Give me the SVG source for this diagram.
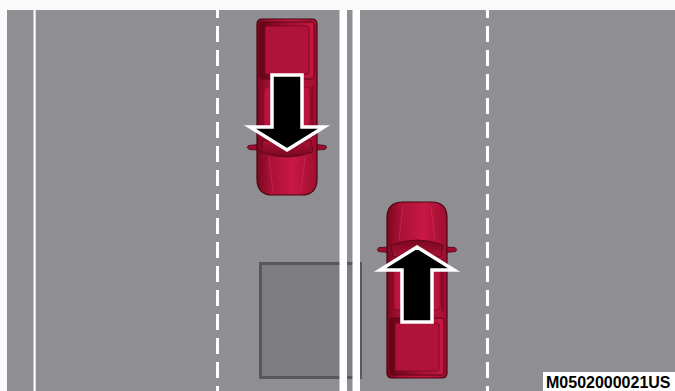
<svg xmlns="http://www.w3.org/2000/svg" width="675" height="391" viewBox="0 0 675 391">
  <style>
    .lane { stroke: #ffffff; stroke-width: 3; fill: none; }
    .dash { stroke-dasharray: 16 8; stroke-dashoffset: 8; }
    .edge { fill: #ffffff; }
    .arrow { fill: #000000; stroke: #ffffff; stroke-width: 3.5; stroke-linejoin: miter; }
    .code { font-family: "Liberation Sans", Arial, sans-serif; font-weight: bold; font-size: 16px; fill: #000000; }
  </style>
  <defs>
    <linearGradient id="paint" x1="0" y1="0" x2="1" y2="0">
      <stop offset="0" stop-color="#7a081f"/>
      <stop offset="0.25" stop-color="#ad1138"/>
      <stop offset="0.6" stop-color="#c81844"/>
      <stop offset="1" stop-color="#9e0e30"/>
    </linearGradient>
    <linearGradient id="bedPaint" x1="0" y1="0" x2="1" y2="0">
      <stop offset="0" stop-color="#660416"/>
      <stop offset="0.5" stop-color="#a00e31"/>
      <stop offset="1" stop-color="#c81742"/>
    </linearGradient>
    <linearGradient id="glass" x1="0" y1="0" x2="0" y2="1">
      <stop offset="0" stop-color="#78071f"/>
      <stop offset="1" stop-color="#aa1236"/>
    </linearGradient>

    <!-- pickup truck seen from above, nose at y=0, centred on x=0 -->
    <g id="truck">
      <path d="M-29,45 L-38,45.5 Q-41,47.5 -38.5,49.5 L-29,50.5 Z" fill="#9c0e30" stroke="#4a0512" stroke-width="0.8"/>
      <path d="M29,45 L38,45.5 Q41,47.5 38.5,49.5 L29,50.5 Z" fill="#9c0e30" stroke="#4a0512" stroke-width="0.8"/>
      <path d="M-30,16 Q-30,0 -14,0 L14,0 Q30,0 30,16 L30,171 Q30,176 25,176 L-25,176 Q-30,176 -30,171 Z" fill="url(#paint)" stroke="#4a0512" stroke-width="1.2"/>
      <!-- hood creases -->
      <path d="M-14,4 Q-16,20 -18,38 M14,4 Q16,20 18,38" fill="none" stroke="#e0406a" stroke-width="0.8" opacity="0.5"/>
      <!-- windshield -->
      <path d="M-26,43 Q0,33 26,43 L24,55 Q0,49 -24,55 Z" fill="url(#glass)" stroke="#5a0616" stroke-width="0.8"/>
      <!-- roof -->
      <rect x="-23" y="58" width="46" height="50" rx="4" fill="#b9153d" stroke="#8a0a27" stroke-width="0.8"/>
      <!-- side windows -->
      <path d="M-27,56 L-24,58 L-24,108 L-27,110 Z M27,56 L24,58 L24,108 L27,110 Z" fill="#8a0a27"/>
      <!-- cargo bed -->
      <rect x="-27" y="116" width="54" height="57" rx="3" fill="url(#bedPaint)" stroke="#5a0616" stroke-width="1"/>
      <rect x="-22" y="121" width="44" height="48" rx="2" fill="#b0133a" stroke="#7a0720" stroke-width="0.8"/>
    </g>

    <!-- direction-of-travel arrow, tip at y=45, drawn in the same frame as the truck -->
    <polygon id="heading" class="arrow" points="0,45 37,68 15,68 15,120 -15,120 -15,68 -37,68"/>
  </defs>

  <!-- white margins -->
  <rect x="0" y="0" width="675" height="391" fill="#fafafa"/>

  <!-- road surface -->
  <rect x="7" y="10" width="668" height="381" fill="#8f8f93"/>

  <!-- parking space -->
  <g id="parking-space">
    <rect x="260.5" y="263.5" width="100" height="114" fill="#7e7e82" stroke="#58585c" stroke-width="3"/>
  </g>

  <!-- lane markings -->
  <g id="lane-markings">
    <rect class="edge" x="33.5" y="10" width="2.2" height="381"/>
    <line class="lane dash" x1="217.5" y1="10" x2="217.5" y2="391"/>
    <line class="lane dash" x1="487.5" y1="10" x2="487.5" y2="391"/>
    <rect class="edge" x="339.5" y="10" width="7.5" height="381"/>
    <rect class="edge" x="352.5" y="10" width="7.5" height="381"/>
  </g>

  <!-- oncoming truck, heading down -->
  <g id="truck-southbound" transform="translate(287,195) scale(1,-1)">
    <use href="#truck"/>
    <use href="#heading"/>
  </g>

  <!-- truck heading up -->
  <g id="truck-northbound" transform="translate(417,202)">
    <use href="#truck"/>
    <use href="#heading"/>
  </g>

  <!-- figure code -->
  <g id="figure-code">
    <rect x="543" y="372" width="132" height="19" fill="#ffffff"/>
    <text class="code" x="546" y="388">M0502000021US</text>
  </g>
</svg>
